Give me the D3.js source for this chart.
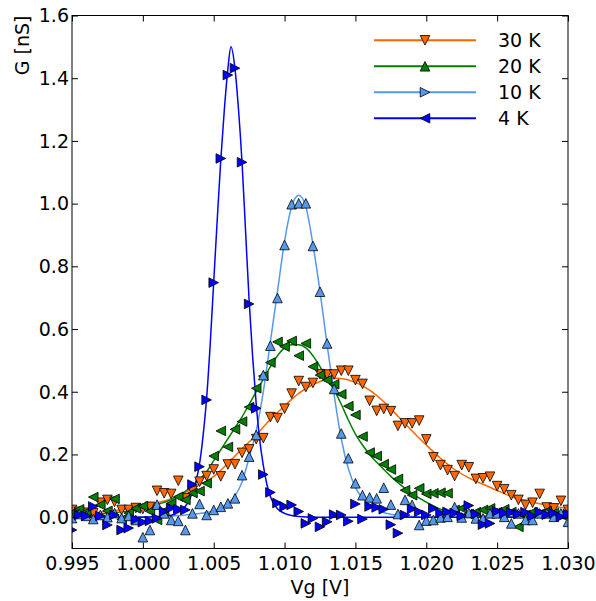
<!DOCTYPE html>
<html><head><meta charset="utf-8">
<script src="https://cdn.jsdelivr.net/npm/d3@7"></script>
<style>body{margin:0;background:#fff}</style>
</head><body><svg id="c" width="596" height="601"></svg>
<script>
// ---- data ----
const vg = [0.995,0.9955,0.996,0.9965,0.997,0.9975,0.998,0.9985,0.999,0.9995,
  1.000,1.0005,1.001,1.0015,1.002,1.0025,1.003,1.0035,1.004,1.0045,
  1.005,1.0055,1.006,1.0065,1.007,1.0075,1.008,1.0085,1.009,1.0095,
  1.010,1.0105,1.011,1.0115,1.012,1.0125,1.013,1.0135,1.014,1.0145,
  1.015,1.0155,1.016,1.0165,1.017,1.0175,1.018,1.0185,1.019,1.0195,
  1.020,1.0205,1.021,1.0215,1.022,1.0225,1.023,1.0235,1.024,1.0245,
  1.025,1.0255,1.026,1.0265,1.027,1.0275,1.028,1.0285,1.029,1.0295,1.030];

const g30 = [0.023,0.017,0.014,0.012,0.046,0.055,0.049,0.023,0.023,0.029,
  0.026,0.033,0.084,0.076,0.074,0.116,0.060,0.084,0.113,0.131,
  0.152,0.130,0.168,0.169,0.205,0.216,0.249,0.252,0.319,0.316,
  0.346,0.394,0.434,0.415,0.428,0.456,0.455,0.455,0.467,0.467,
  0.437,0.425,0.371,0.339,0.345,0.338,0.291,0.299,0.299,0.308,
  0.248,0.191,0.166,0.150,0.131,0.166,0.159,0.122,0.124,0.129,
  0.099,0.089,0.070,0.055,0.039,0.046,0.074,0.031,0.028,0.052,0.023];

const g20 = [0.013,0.025,0.016,0.064,0.039,0.020,0.058,-0.007,0.013,0.028,
  0.035,0.019,-0.009,0.019,0.044,0.065,0.055,0.077,0.083,0.108,
  0.195,0.275,0.224,0.280,0.305,0.351,0.411,0.450,0.493,0.559,
  0.544,0.562,0.515,0.554,0.480,0.453,0.437,0.424,0.392,0.354,
  0.326,0.257,0.206,0.195,0.169,0.152,0.122,0.086,0.070,0.092,
  0.074,0.076,0.078,0.076,0.023,0.028,0.010,0.016,0.023,0.028,
  0.016,0.025,0.016,-0.031,0.007,0.016,0.010,0.019,0.013,0.007,-0.001];

const g10 = [-0.003,0.010,0.004,-0.006,0.007,0.000,0.013,-0.003,0.004,-0.009,
  -0.064,-0.041,0.040,0.012,-0.009,-0.012,-0.041,0.012,0.042,0.007,
  0.023,0.033,0.044,0.060,0.134,0.193,0.262,0.453,0.547,0.699,
  0.868,0.998,1.001,1.001,0.865,0.719,0.554,0.409,0.267,0.188,
  0.108,0.070,0.063,0.060,0.094,0.040,0.010,0.055,0.039,-0.025,
  -0.011,-0.009,-0.001,0.001,0.032,-0.001,0.013,-0.004,-0.004,0.012,
  0.012,0.001,-0.020,0.012,-0.009,-0.009,0.012,0.012,0.001,0.012,-0.015];

const g4 = [-0.041,0.007,0.004,0.034,0.004,-0.025,0.007,-0.041,-0.035,-0.007,
  -0.016,-0.012,-0.004,0.018,0.029,0.026,0.023,0.104,0.161,0.374,
  0.748,1.144,1.410,1.432,1.132,0.680,0.347,0.136,0.079,0.045,
  0.034,0.039,0.018,-0.020,-0.004,-0.031,-0.015,0.008,0.007,-0.013,
  0.042,-0.006,0.034,0.031,0.025,-0.024,-0.051,0.007,0.026,0.017,
  0.007,0.028,0.013,0.017,0.013,0.004,0.037,0.010,-0.024,-0.020,
  0.019,0.013,0.016,0.010,0.016,0.004,0.016,0.008,0.013,0.001,0.010];

// fitted curves
const fit30X = [0.995,0.997,0.999,1.000,1.001,1.002,1.003,1.004,1.005,1.006,1.007,1.008,1.009,1.010,1.011,1.012,1.013,1.0135,1.014,1.015,1.016,1.017,1.018,1.019,1.020,1.021,1.022,1.023,1.024,1.025,1.026,1.027,1.028,1.029,1.030];
const fit30Y = [0.010,0.016,0.027,0.034,0.045,0.059,0.079,0.103,0.130,0.172,0.218,0.262,0.312,0.355,0.395,0.423,0.440,0.443,0.442,0.430,0.405,0.368,0.322,0.275,0.230,0.188,0.152,0.125,0.105,0.085,0.066,0.053,0.043,0.034,0.028];

const fit20X = [0.995,0.997,0.999,1.000,1.001,1.002,1.003,1.004,1.0045,1.005,1.0055,1.006,1.0065,1.007,1.0075,1.008,1.0085,1.009,1.0095,1.010,1.0105,1.011,1.0115,1.012,1.0125,1.013,1.0135,1.014,1.0145,1.015,1.0155,1.016,1.0165,1.017,1.0175,1.018,1.019,1.020,1.021,1.022,1.023,1.025,1.030];
const fit20Y = [0.005,0.010,0.020,0.028,0.040,0.056,0.082,0.120,0.145,0.180,0.215,0.250,0.285,0.320,0.360,0.400,0.440,0.480,0.515,0.540,0.550,0.550,0.540,0.515,0.480,0.440,0.405,0.360,0.310,0.265,0.230,0.200,0.175,0.152,0.130,0.110,0.075,0.048,0.025,0.013,0.007,0.002,0.000];

const fit10X = [0.995,1.000,1.002,1.003,1.004,1.005,1.0055,1.006,1.0065,1.007,1.0075,1.008,1.0085,1.009,1.0095,1.010,1.0105,1.011,1.0115,1.012,1.0125,1.013,1.0135,1.014,1.0145,1.015,1.0155,1.016,1.017,1.018,1.019,1.020,1.030];
const fit10Y = [0.000,0.001,0.004,0.007,0.012,0.020,0.030,0.045,0.068,0.112,0.190,0.275,0.400,0.560,0.720,0.880,0.990,1.027,0.990,0.870,0.720,0.550,0.390,0.250,0.155,0.095,0.060,0.040,0.015,0.006,0.002,0.000,0.000];

const fit4X = [0.995,1.000,1.002,1.0025,1.003,1.00325,1.0035,1.00375,1.004,1.00425,1.0045,1.00475,1.005,1.00525,1.0055,1.00575,1.006,1.00622,1.0065,1.00675,1.007,1.00725,1.0075,1.00775,1.008,1.00825,1.0085,1.00875,1.009,1.00925,1.0095,1.010,1.0105,1.011,1.012,1.030];
const fit4Y = [0.000,0.000,0.006,0.015,0.035,0.052,0.080,0.115,0.170,0.260,0.380,0.550,0.750,0.950,1.140,1.300,1.430,1.500,1.430,1.300,1.130,0.910,0.690,0.510,0.360,0.245,0.165,0.105,0.066,0.042,0.027,0.012,0.005,0.002,0.000,0.000];

const labels = ["30 K","20 K","10 K","4 K"];
const colors = ["#ff6600","#007f00","#5599ee","#0000ff"];
const xTicks = [0.995,1.000,1.005,1.010,1.015,1.020,1.025,1.030];
const yTicks = [0.0,0.2,0.4,0.6,0.8,1.0,1.2,1.4,1.6];

const series = [
  {label:labels[0], color:colors[0], ys:g30, fx:fit30X, fy:fit30Y, mk:"down",  lmk:"down"},
  {label:labels[1], color:colors[1], ys:g20, fx:fit20X, fy:fit20Y, mk:"left",  lmk:"up"},
  {label:labels[2], color:colors[2], ys:g10, fx:fit10X, fy:fit10Y, mk:"up",    lmk:"right"},
  {label:labels[3], color:colors[3], ys:g4,  fx:fit4X,  fy:fit4Y,  mk:"right", lmk:"left"}
];

// ---- layout ----
const L=72, R=568, T=15.5, B=548.5;
const FONT = "DejaVu Sans, sans-serif", FS = 19;
const x = d3.scaleLinear().domain([0.995,1.030]).range([L,R]);
const y = d3.scaleLinear().domain([-0.1,1.6]).range([B,T]);

const svg = d3.select("#c");
svg.append("rect").attr("width",596).attr("height",601).attr("fill","#fff");
svg.append("clipPath").attr("id","clip").append("rect")
  .attr("x",L).attr("y",T).attr("width",R-L).attr("height",B-T);

function tri(dir, r){
  switch(dir){
    case "up": return `M0,${-r}L${r},${r}L${-r},${r}Z`;
    case "down": return `M0,${r}L${r},${-r}L${-r},${-r}Z`;
    case "left": return `M${-r},0L${r},${-r}L${r},${r}Z`;
    default: return `M${r},0L${-r},${-r}L${-r},${r}Z`;
  }
}
const MR = 4.8;

const plot = svg.append("g").attr("clip-path","url(#clip)");
const line = d3.line().x(d=>x(d[0])).y(d=>y(d[1])).curve(d3.curveMonotoneX);
series.forEach(s=>{
  plot.append("path").attr("d", line(s.fx.map((v,i)=>[v,s.fy[i]])))
    .attr("fill","none").attr("stroke",s.color).attr("stroke-width",1.5);
});
series.forEach(s=>{
  plot.append("g").selectAll("path").data(vg.map((v,i)=>[v,s.ys[i]])).join("path")
    .attr("transform",d=>`translate(${x(d[0])},${y(d[1])})`)
    .attr("d",tri(s.mk,MR)).attr("fill",s.color)
    .attr("stroke","#000").attr("stroke-width",0.8).attr("stroke-linejoin","miter");
});

// ---- axes ----
const TK = 6;
const gx = svg.append("g").attr("transform",`translate(0,${B})`)
  .call(d3.axisBottom(x).tickValues(xTicks).tickFormat(d3.format(".3f")).tickSizeInner(-TK).tickSizeOuter(0).tickPadding(8));
const gxt = svg.append("g").attr("transform",`translate(0,${T})`)
  .call(d3.axisTop(x).tickValues(xTicks).tickFormat("").tickSizeInner(-TK).tickSizeOuter(0));
const gy = svg.append("g").attr("transform",`translate(${L},0)`)
  .call(d3.axisLeft(y).tickValues(yTicks).tickFormat(d3.format(".1f")).tickSizeInner(-TK).tickSizeOuter(0).tickPadding(3));
const gyr = svg.append("g").attr("transform",`translate(${R},0)`)
  .call(d3.axisRight(y).tickValues(yTicks).tickFormat("").tickSizeInner(-TK).tickSizeOuter(0));
[gx,gxt,gy,gyr].forEach(g=>{
  g.select(".domain").remove();
  g.selectAll("line").attr("stroke","#000").attr("stroke-width",1);
  g.selectAll("text").attr("font-family",FONT).attr("font-size",FS).attr("fill","#000");
});
gy.selectAll("text").attr("dy","0.33em");
svg.append("rect").attr("x",L).attr("y",T).attr("width",R-L).attr("height",B-T)
  .attr("fill","none").attr("stroke","#000").attr("stroke-width",1);

svg.append("text").attr("x",(L+R)/2).attr("y",594).attr("text-anchor","middle")
  .attr("font-family",FONT).attr("font-size",FS).text("Vg [V]");
svg.append("text").attr("transform",`translate(29,${T}) rotate(-90)`).attr("text-anchor","end")
  .attr("font-family",FONT).attr("font-size",FS).text("G [nS]");

// ---- legend ----
const lg = svg.append("g");
series.forEach((s,i)=>{
  const ry = 40.3 + i*26;
  lg.append("line").attr("x1",374).attr("x2",476).attr("y1",ry).attr("y2",ry)
    .attr("stroke",s.color).attr("stroke-width",2);
  lg.append("path").attr("transform",`translate(425,${ry})`).attr("d",tri(s.lmk,MR))
    .attr("fill",s.color).attr("stroke","#000").attr("stroke-width",0.8);
  lg.append("text").attr("x",498).attr("y",ry).attr("dy","0.36em")
    .attr("font-family",FONT).attr("font-size",FS).text(s.label);
});
</script></body></html>
